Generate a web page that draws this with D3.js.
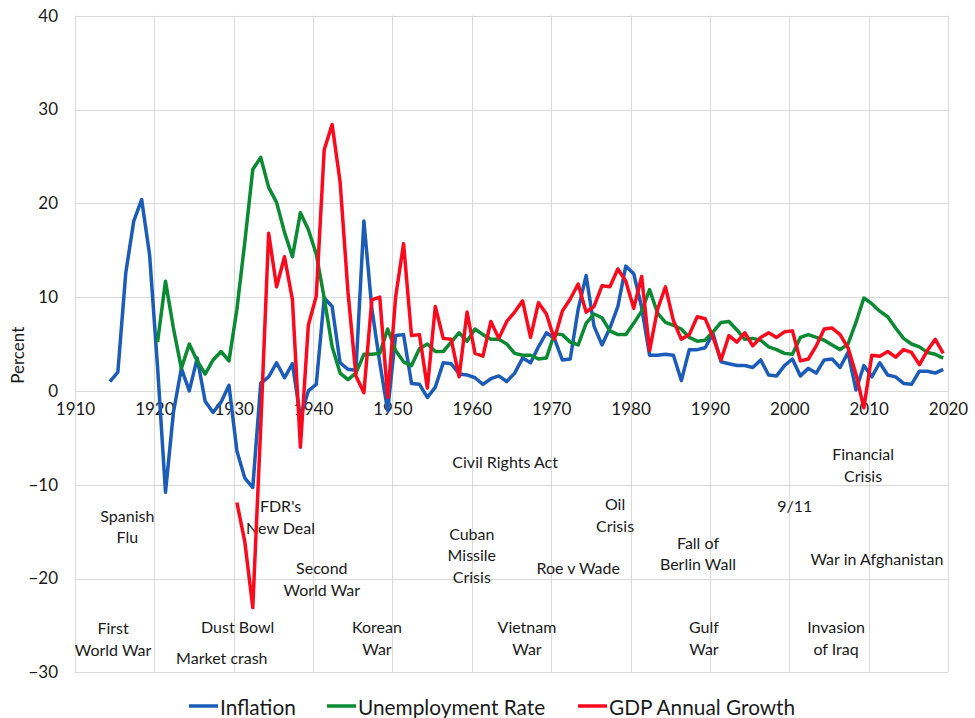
<!DOCTYPE html>
<html>
<head>
<meta charset="utf-8">
<script src="https://cdn.jsdelivr.net/npm/d3@7"></script>
<style>
  html, body { margin: 0; padding: 0; background: #fff; }
  svg { display: block; font-family: Lato, "Open Sans", sans-serif; }
</style>
</head>
<body>
<svg id="chart" width="975" height="718"></svg>
<script>
// ---------------- DATA ----------------
const xTicks = [1910, 1920, 1930, 1940, 1950, 1960, 1970, 1980, 1990, 2000, 2010, 2020];
const yTicks = [-30, -20, -10, 0, 10, 20, 30, 40];

const inflationStart = 1914;
const inflation = [
  1.0, 2.0, 12.6, 18.1, 20.4, 14.5, 2.6, -10.8, -2.3, 2.4,
  0.0, 3.5, -1.1, -2.3, -1.2, 0.6, -6.4, -9.3, -10.3, 0.8,
  1.5, 3.0, 1.4, 2.9, -2.8, 0.0, 0.7, 9.9, 9.0, 3.0,
  2.3, 2.2, 18.1, 8.8, 3.0, -2.1, 5.9, 6.0, 0.8, 0.7,
  -0.7, 0.4, 3.0, 2.9, 1.8, 1.7, 1.4, 0.7, 1.3, 1.6,
  1.0, 1.9, 3.5, 3.0, 4.7, 6.2, 5.6, 3.3, 3.4, 8.7,
  12.3, 6.9, 4.9, 6.7, 9.0, 13.3, 12.5, 8.9, 3.8, 3.8,
  3.9, 3.8, 1.1, 4.4, 4.4, 4.6, 6.1, 3.1, 2.9, 2.7,
  2.7, 2.5, 3.3, 1.7, 1.6, 2.7, 3.4, 1.6, 2.4, 1.9,
  3.3, 3.4, 2.5, 4.1, 0.1, 2.7, 1.5, 3.0, 1.7, 1.5,
  0.8, 0.7, 2.1, 2.1, 1.9, 2.3
];

const unemploymentStart = 1920;
const unemployment = [
  5.2, 11.7, 6.7, 2.4, 5.0, 3.2, 1.8, 3.3, 4.2, 3.2,
  8.7, 15.9, 23.6, 24.9, 21.7, 20.1, 16.9, 14.3, 19.0, 17.2,
  14.6, 9.9, 4.7, 1.9, 1.2, 1.9, 3.9, 3.9, 4.0, 6.6,
  4.3, 3.1, 2.7, 4.5, 5.0, 4.2, 4.2, 5.2, 6.2, 5.3,
  6.6, 6.0, 5.5, 5.5, 5.0, 4.0, 3.8, 3.8, 3.4, 3.5,
  6.1, 6.0, 5.2, 4.9, 7.2, 8.2, 7.8, 6.4, 6.0, 6.0,
  7.2, 8.5, 10.8, 8.3, 7.3, 7.0, 6.6, 5.7, 5.3, 5.4,
  6.3, 7.3, 7.4, 6.5, 5.5, 5.6, 5.4, 4.7, 4.4, 4.0,
  3.9, 5.7, 6.0, 5.7, 5.4, 4.9, 4.4, 5.0, 7.3, 9.9,
  9.3, 8.5, 7.9, 6.7, 5.6, 5.0, 4.7, 4.1, 3.9, 3.5
];

const gdpStart = 1930;
const gdpGrowth = [
  -11.9, -16.1, -23.1, -3.9, 16.8, 11.1, 14.3, 9.7, -6.0, 7.0,
  10.1, 25.7, 28.4, 22.3, 10.5, 1.6, -0.2, 9.7, 10.0, -0.7,
  10.0, 15.7, 5.9, 6.0, 0.3, 9.0, 5.6, 5.5, 1.5, 8.4,
  4.0, 3.7, 7.4, 5.6, 7.4, 8.4, 9.6, 5.7, 9.4, 8.2,
  5.5, 8.5, 9.8, 11.4, 8.4, 9.0, 11.2, 11.1, 13.0, 11.7,
  8.8, 12.2, 4.3, 8.7, 11.1, 7.5, 5.5, 6.0, 7.9, 7.7,
  5.7, 3.3, 5.9, 5.2, 6.2, 4.8, 5.7, 6.2, 5.7, 6.3,
  6.4, 3.2, 3.4, 4.8, 6.6, 6.7, 6.0, 4.6, 1.8, -1.8,
  3.8, 3.7, 4.2, 3.6, 4.4, 4.1, 2.8, 4.3, 5.5, 4.0
];

const seriesNames = ["Inflation", "Unemployment Rate", "GDP Annual Growth"];
const seriesColors = ["#1a5cb8", "#0a8a32", "#fb0a1e"];

// annotations: lines of text, centre year, value of first line
const annotations = [
  { lines: ["Spanish", "Flu"], year: 1916.6, value: -13.2 },
  { lines: ["First", "World War"], year: 1914.8, value: -25.2 },
  { lines: ["Market crash"], year: 1928.5, value: -28.4 },
  { lines: ["Dust Bowl"], year: 1930.5, value: -25.1 },
  { lines: ["FDR's", "New Deal"], year: 1935.9, value: -12.2 },
  { lines: ["Second", "World War"], year: 1941.1, value: -18.8 },
  { lines: ["Korean", "War"], year: 1948.05, value: -25.1 },
  { lines: ["Civil Rights Act"], year: 1964.2, value: -7.45 },
  { lines: ["Cuban", "Missile", "Crisis"], year: 1960.0, value: -15.1 },
  { lines: ["Vietnam", "War"], year: 1966.95, value: -25.1 },
  { lines: ["Roe v Wade"], year: 1973.4, value: -18.8 },
  { lines: ["Oil", "Crisis"], year: 1978.05, value: -12.0 },
  { lines: ["Fall of", "Berlin Wall"], year: 1988.5, value: -16.1 },
  { lines: ["Gulf", "War"], year: 1989.25, value: -25.1 },
  { lines: ["9/11"], year: 2000.7, value: -12.2 },
  { lines: ["Financial", "Crisis"], year: 2009.3, value: -6.65 },
  { lines: ["War in Afghanistan"], year: 2011.05, value: -17.8 },
  { lines: ["Invasion", "of Iraq"], year: 2005.9, value: -25.1 }
];

// ---------------- CHART ----------------
const svg = d3.select("#chart");
const x = d3.scaleLinear().domain([1910, 2020]).range([75, 948]);
const y = d3.scaleLinear().domain([-30, 40]).range([672.3, 15.7]);
const pointOffset = 0.4; // points sit slightly after the year line

const grid = svg.append("g").attr("stroke", "#d9d9d9").attr("stroke-width", 1);
grid.selectAll("line.h").data(yTicks).join("line")
  .attr("x1", x(1910)).attr("x2", x(2020))
  .attr("y1", d => Math.round(y(d)) + 0.5).attr("y2", d => Math.round(y(d)) + 0.5);
grid.selectAll("line.v").data(xTicks).join("line")
  .attr("y1", y(40)).attr("y2", y(-30))
  .attr("x1", d => Math.round(x(d)) + 0.5).attr("x2", d => Math.round(x(d)) + 0.5);

// y axis labels
const yAxis = svg.append("g").attr("transform", `translate(${x(1910) - 17},0)`)
  .call(d3.axisLeft(y).tickValues(yTicks).tickSize(0).tickPadding(0).tickFormat(d3.format("d")));
yAxis.select(".domain").remove();
yAxis.selectAll("text").attr("font-size", 17).attr("fill", "#1a1a1a")
  .attr("font-family", "Lato, sans-serif");

// x axis labels at zero line
const xAxis = svg.append("g").attr("transform", `translate(0,${y(0) + 12})`)
  .call(d3.axisBottom(x).tickValues(xTicks).tickSize(0).tickPadding(0).tickFormat(d3.format("d")));
xAxis.select(".domain").remove();
xAxis.selectAll("text").attr("font-size", 17).attr("fill", "#1a1a1a")
  .attr("font-family", "Lato, sans-serif");

// y title
svg.append("text")
  .attr("transform", `translate(24,${y(3.8)}) rotate(-90)`)
  .attr("text-anchor", "middle")
  .attr("font-size", 17).attr("fill", "#1a1a1a")
  .text("Percent");

// annotations
const annG = svg.append("g").attr("font-size", 16).attr("fill", "#1a1a1a").attr("text-anchor", "middle");
annotations.forEach(a => {
  const t = annG.append("text")
    .attr("x", x(a.year))
    .attr("y", y(a.value))
    .attr("dominant-baseline", "central");
  a.lines.forEach((ln, i) => {
    t.append("tspan").attr("x", x(a.year)).attr("dy", i === 0 ? 0 : 21.5).text(ln);
  });
});

// lines
const seriesData = [
  inflation.map((v, i) => [inflationStart + i, v]),
  unemployment.map((v, i) => [unemploymentStart + i, v]),
  gdpGrowth.map((v, i) => [gdpStart + i, v])
];
const line = d3.line().x(d => x(d[0] + pointOffset)).y(d => y(d[1]));
svg.append("g").selectAll("path").data(seriesData).join("path")
  .attr("d", line)
  .attr("fill", "none")
  .attr("stroke", (d, i) => seriesColors[i])
  .attr("stroke-width", 3.5)
  .attr("stroke-linejoin", "round")
  .attr("stroke-linecap", "butt");

// legend
const legend = svg.append("g").attr("transform", "translate(0,706)");
const legendX = [189, 327, 578];
seriesNames.forEach((name, i) => {
  const g = legend.append("g").attr("transform", `translate(${legendX[i]},0)`);
  g.append("line").attr("x1", 0).attr("x2", 29).attr("y1", 0).attr("y2", 0)
    .attr("stroke", seriesColors[i]).attr("stroke-width", 3.5);
  g.append("text").attr("x", 31).attr("y", 0).attr("dominant-baseline", "central")
    .attr("font-size", 20.8).attr("fill", "#1a1a1a").text(name);
});
</script>
</body>
</html>
